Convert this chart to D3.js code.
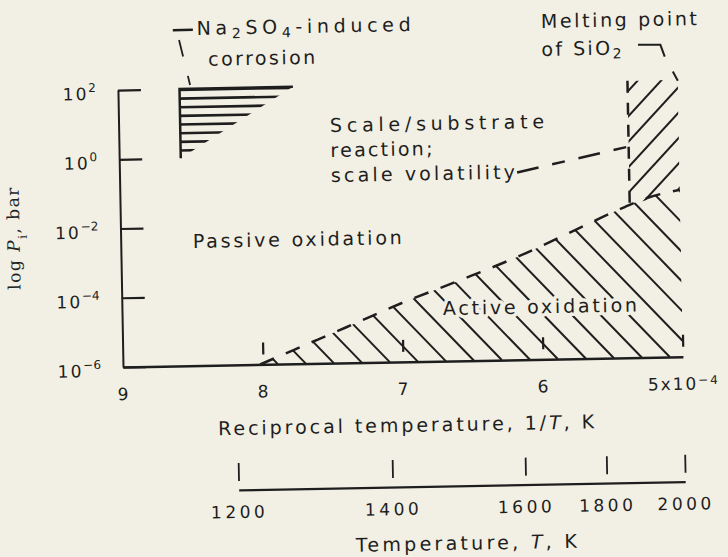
<!DOCTYPE html>
<html>
<head>
<meta charset="utf-8">
<title>SiC oxidation regimes</title>
<script src="https://cdn.jsdelivr.net/npm/d3@7"></script>
<style>
  body { margin: 0; background: #f2f0e4; }
  svg { display: block; }
  text { font-family: "DejaVu Sans", sans-serif; fill: #1e1e1e; }
  .note { font-size: 19px; }
  .halo { stroke: #f2f0e4; stroke-width: 7px; paint-order: stroke; stroke-linejoin: round; }
  .title { font-size: 19px; }
  .ylabel { font-family: "DejaVu Serif", serif; font-size: 17px; letter-spacing: 1.5px; }
  .axis text { font-size: 17px; letter-spacing: 2px; }
  .temp text { letter-spacing: 3.5px; }
  .axis path, .axis line { stroke: #1e1e1e; }
  .axis path { stroke-width: 2.5; }
  .axis line { stroke-width: 2.2; }
  .hatch line { stroke: #1e1e1e; stroke-width: 2; }
  .dash { fill: none; stroke: #1e1e1e; stroke-width: 2.5; }
</style>
</head>
<body>
<svg id="chart" width="728" height="557"></svg>
<script>
// reciprocal temperature axis, 1/T (x10^-4 K^-1)
const recipTicks = [9, 8, 7, 6, 5];
const recipLabels = ["9", "8", "7", "6", "5x10"];
// log Pi axis, exponents of 10 (bar)
const logTicks = [2, 0, -2, -4, -6];
// temperature axis (K) and where each of its ticks sits on the 1/T axis of the figure
const tempTicks = [1200, 1400, 1600, 1800, 2000];
const tempTickPos = [8.19, 7.09, 6.14, 5.56, 5.0];

// active / passive oxidation boundary, [1/T, log P]
const activeEdge = [[8.02, -6], [7.78, -5.6], [7.4, -4.97], [7.0, -4.3], [6.58, -3.67],
  [6.17, -3.03], [5.75, -2.28], [5.44, -1.72], [5.23, -1.39], [5.0, -1.18]];
// Na2SO4-induced corrosion wedge
const naWedge = [[8.56, 2], [7.75, 2], [8.56, 0]];
// melting point of SiO2 (1/T) and top of that region (log P)
const meltAt = 5.36;
const meltTop = 2;
// scale/substrate reaction, scale volatility boundary
const scaleEdge = [[6.16, -0.59], [5.37, 0.09]];
// leader lines of the labels
const naBar = [[8.6, 3.7], [8.457, 3.7]];
const naLeader = [[8.557, 3.415], [8.484, 2.11]];
const meltLeader = [[5.28, 3.03], [5.12, 3.02], [5.09, 2.67], [5.033, 2.23], [5.0, 1.97]];

const width = 728, height = 557;

const x = d3.scaleLinear().domain([9, 5]).range([123, 683]);
const y = d3.scaleLinear().domain([-6, 2]).range([367, 90]);
const tx = d3.scaleLinear().domain(tempTicks).range(tempTickPos.map(x));
const edgeAt = d3.scaleLinear().domain(activeEdge.map(d => d[0])).range(activeEdge.map(d => d[1]));

const svg = d3.select("#chart");
svg.append("rect").attr("width", width).attr("height", height).attr("fill", "#f2f0e4");

// the scanned figure sits slightly tilted
const g = svg.append("g").attr("transform", `rotate(-1.05, ${x(9)}, ${y(-6)})`);
const defs = svg.append("defs");

const line = d3.line().x(d => x(d[0])).y(d => y(d[1]));
const smooth = d3.line().x(d => x(d[0])).y(d => y(d[1])).curve(d3.curveMonotoneX);
const under = d3.area().x(d => x(d[0])).y0(y(-6)).y1(d => y(d[1])).curve(d3.curveMonotoneX);

// clip regions
defs.append("clipPath").attr("id", "clip-active")
  .append("path").attr("d", under(activeEdge));
const meltBox = [[meltAt, meltTop], [5, meltTop], [5, edgeAt(5)], [meltAt, edgeAt(meltAt)]];
defs.append("clipPath").attr("id", "clip-melt")
  .append("path").attr("d", line(meltBox) + "Z");
defs.append("clipPath").attr("id", "clip-na")
  .append("path").attr("d", line(naWedge) + "Z");

// active oxidation hatching "\"
const hh = y(-6) - y(2);
g.append("g").attr("class", "hatch").attr("clip-path", "url(#clip-active)")
  .selectAll("line").data(d3.range(x(9) - 300, x(5) + 10, 28)).join("line")
  .attr("x1", d => d).attr("y1", y(2))
  .attr("x2", d => d + hh / 1.07).attr("y2", y(-6));

// melting region hatching "/"
g.append("g").attr("class", "hatch").attr("clip-path", "url(#clip-melt)")
  .selectAll("line").data(d3.range(y(meltTop) - 10, y(edgeAt(5)) + 80, 25)).join("line")
  .attr("x1", x(meltAt) - 4).attr("y1", d => d)
  .attr("x2", x(5) + 4).attr("y2", d => d - (x(5) - x(meltAt) + 8) * 1.05);

// Na2SO4 wedge, horizontal hatching
g.append("g").attr("class", "hatch").attr("clip-path", "url(#clip-na)")
  .selectAll("line").data(d3.range(0, 2.01, 0.25)).join("line")
  .attr("x1", x(8.6)).attr("x2", x(7.7))
  .attr("y1", d => y(d) + 1).attr("y2", d => y(d) + 1)
  .style("stroke-width", 2.6);
g.append("path").attr("class", "dash")
  .attr("d", line([naWedge[2], naWedge[0], naWedge[1]]));

// boundaries
g.append("path").attr("class", "dash")
  .attr("stroke-dasharray", "15,13")
  .attr("d", smooth(activeEdge));
g.append("path").attr("class", "dash")
  .attr("stroke-dasharray", "12,10")
  .attr("d", line([[meltAt, meltTop], [meltAt, edgeAt(meltAt)]]));
g.append("path").attr("class", "dash")
  .attr("stroke-dasharray", "22,14,13,14")
  .attr("d", line(scaleEdge));

// leaders
g.append("path").attr("class", "dash").attr("d", line(naBar));
g.append("path").attr("class", "dash").style("stroke-width", 1.8)
  .attr("stroke-dasharray", "17,20").attr("d", line(naLeader));
g.append("path").attr("class", "dash").style("stroke-width", 2)
  .attr("stroke-dasharray", "35,17,16").attr("d", line(meltLeader));

// x axis, 1/T
const xAxis = g.append("g").attr("class", "axis")
  .attr("transform", `translate(0,${y(-6)})`)
  .call(d3.axisBottom(x).tickValues(recipTicks).tickSize(-22).tickSizeOuter(0)
    .tickPadding(21).tickFormat((d, i) => recipLabels[i]));
xAxis.selectAll(".tick line").attr("y1", -10).filter(d => d === 9).remove();
xAxis.selectAll(".tick text").filter(d => d === 5)
  .append("tspan").attr("dy", "-0.45em").style("font-size", "12px").text("−4");

// y axis, log Pi
const yAxis = g.append("g").attr("class", "axis")
  .attr("transform", `translate(${x(9)},0)`)
  .call(d3.axisLeft(y).tickValues(logTicks).tickSize(-23).tickSizeOuter(0)
    .tickPadding(22).tickFormat(""));
yAxis.select(".domain").style("stroke-width", 2);
yAxis.selectAll(".tick text").attr("dy", 9).each(function (d) {
  const t = d3.select(this);
  t.append("tspan").text("10");
  t.append("tspan").attr("dy", -8).style("font-size", "12px").style("letter-spacing", "0px")
    .text(d < 0 ? "−" + (-d) : d);
});

// temperature axis
const tAxis = g.append("g").attr("class", "axis temp")
  .attr("transform", `translate(0,${y(-6) + 125})`)
  .call(d3.axisBottom(tx).tickValues(tempTicks).tickSize(-27).tickSizeOuter(0)
    .tickPadding(16).tickFormat(d3.format("d")));
tAxis.selectAll(".tick line").attr("y1", -9).style("stroke-width", 1.8);
tAxis.select(".domain").style("stroke-width", 2.2);

// axis titles
const xt = g.append("text").attr("class", "title").attr("text-anchor", "middle")
  .attr("x", x(9) + 282).attr("y", y(-6) + 70)
  .attr("textLength", 376).attr("lengthAdjust", "spacing");
xt.append("tspan").text("Reciprocal temperature, 1/");
xt.append("tspan").style("font-style", "italic").text("T");
xt.append("tspan").text(", K");

const tt = g.append("text").attr("class", "title").attr("text-anchor", "middle")
  .attr("x", x(9) + 340).attr("y", y(-6) + 189)
  .attr("textLength", 221).attr("lengthAdjust", "spacing");
tt.append("tspan").text("Temperature, ");
tt.append("tspan").style("font-style", "italic").text("T");
tt.append("tspan").text(", K");

const yl = g.append("text").attr("class", "ylabel").attr("text-anchor", "middle")
  .attr("transform", `translate(${x(9) - 101},${y(-6) - 131}) rotate(-90)`);
yl.append("tspan").text("log ");
yl.append("tspan").style("font-style", "italic").text("P");
yl.append("tspan").attr("baseline-shift", "sub").style("font-size", "12px").text("i");
yl.append("tspan").text(", bar");

// region labels: one text per line, stretched to the width it has in the figure.
// a line is a string, or a list of [text, isSubscript] pieces
function note(v, lp, lines, step, indent, widths, cls) {
  lines.forEach((s, i) => {
    const t = g.append("text").attr("class", "note " + (cls || ""))
      .attr("x", x(v) + (i ? indent : 0)).attr("y", y(lp) + i * step)
      .attr("textLength", widths[i]).attr("lengthAdjust", "spacing");
    const parts = typeof s === "string" ? [[s, false]] : s;
    parts.forEach(([txt, sub]) => {
      const p = t.append("tspan").text(txt);
      if (sub) p.attr("baseline-shift", "-25%").style("font-size", "14px");
    });
  });
}
note(8.485, -2.6, ["Passive oxidation"], 0, 0, [209]);
note(6.707, -4.67, ["Active oxidation"], 0, 0, [194], "halo");
note(7.49, 0.677, ["Scale/substrate", "reaction;", "scale volatility"], 25, 0, [214, 102, 184]);
note(5.97, 3.57, ["Melting point", [["of SiO", false], ["2", true]]], 28, 0, [156, 80]);
note(8.43, 3.55, [[["Na", false], ["2", true], ["SO", false], ["4", true], ["-induced", false]], "corrosion"],
  31, 11, [214, 107]);
</script>
</body>
</html>
